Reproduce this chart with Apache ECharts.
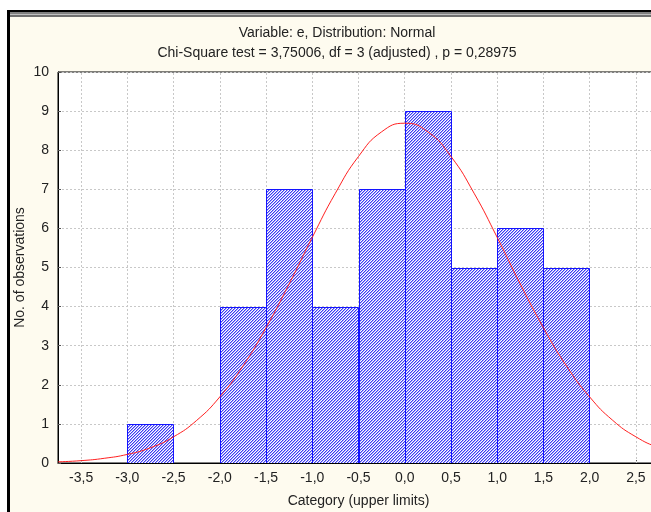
<!DOCTYPE html>
<html>
<head>
<meta charset="utf-8">
<script src="https://cdn.jsdelivr.net/npm/echarts@6/dist/echarts.min.js"></script>
<style>html,body{margin:0;padding:0;background:#fff}#c{width:651px;height:512px}</style>
</head>
<body>
<div id="c"></div>
<script>
// Histogram bins: [lower limit, upper limit, count]
var binLower = [-3.0, -2.0, -1.5, -1.0, -0.5, 0.0, 0.5, 1.0, 1.5];
var binUpper = [-2.5, -1.5, -1.0, -0.5, 0.0, 0.5, 1.0, 1.5, 2.0];
var binCounts = [1, 4, 7, 4, 7, 9, 5, 6, 5];
// Fitted normal curve
var curveX = [-3.75, -3.5, -3.25, -3.0, -2.75, -2.5, -2.25, -2.0, -1.75, -1.5, -1.25, -1.0, -0.75, -0.5, -0.25, 0.0, 0.25, 0.5, 0.75, 1.0, 1.25, 1.5, 1.75, 2.0, 2.25, 2.5, 2.75, 3.0];
var curveY = [0.03, 0.06, 0.12, 0.22, 0.39, 0.67, 1.09, 1.69, 2.48, 3.46, 4.58, 5.77, 6.90, 7.84, 8.47, 8.69, 8.47, 7.84, 6.90, 5.77, 4.58, 3.46, 2.48, 1.69, 1.09, 0.67, 0.39, 0.22];
// x tick labels
var xTicks = [-3.5, -3.0, -2.5, -2.0, -1.5, -1.0, -0.5, 0.0, 0.5, 1.0, 1.5, 2.0, 2.5];
var titleLine1 = 'Variable: e, Distribution: Normal';
var titleLine2 = 'Chi-Square test = 3,75006, df = 3 (adjusted) , p = 0,28975';

// hatch pattern
var pc = document.createElement('canvas');
pc.width = 3; pc.height = 3;
var px = pc.getContext('2d');
px.fillStyle = '#ffffff'; px.fillRect(0, 0, 3, 3);
for (var yy = 0; yy < 3; yy++) for (var xx = 0; xx < 3; xx++) {
  var k = (xx + yy) % 3;
  if (k === 2) { px.fillStyle = '#3a3af4'; px.fillRect(xx, yy, 1, 1); }
  else if (k === 0) { px.fillStyle = '#a8a8fa'; px.fillRect(xx, yy, 1, 1); }
}

var barData = binCounts.map(function (c, i) { return [binLower[i], binUpper[i], c]; });
var lineData = curveX.map(function (x, i) { return [x, curveY[i]]; });
var gridMarks = xTicks.map(function (v) { return {xAxis: v}; });

var FONT = '"Liberation Sans", Arial, sans-serif';
var chart = echarts.init(document.getElementById('c'), null, {renderer: 'canvas'});
chart.setOption({
  animation: false,
  backgroundColor: '#ffffff',
  graphic: [
    {type: 'rect', z: -10, silent: true, shape: {x: 7, y: 10, width: 700, height: 600}, style: {fill: '#fefbef'}},
    {type: 'rect', z: -9, silent: true, shape: {x: 7, y: 10, width: 700, height: 2}, style: {fill: '#000000'}},
    {type: 'rect', z: -9, silent: true, shape: {x: 10, y: 12, width: 700, height: 2}, style: {fill: '#808080'}},
    {type: 'rect', z: -9, silent: true, shape: {x: 10, y: 14, width: 700, height: 1}, style: {fill: '#c0c0c0'}},
    {type: 'rect', z: -9, silent: true, shape: {x: 10, y: 15, width: 700, height: 2}, style: {fill: '#707070'}},
    {type: 'rect', z: -9, silent: true, shape: {x: 7, y: 10, width: 3, height: 600}, style: {fill: '#000000'}},
    {type: 'text', x: 337, y: 33, style: {text: titleLine1, font: '14px ' + FONT, fill: '#222', align: 'center', verticalAlign: 'middle'}},
    {type: 'text', x: 337, y: 53, style: {text: titleLine2, font: '14px ' + FONT, fill: '#222', align: 'center', verticalAlign: 'middle'}}
  ],
  grid: {left: 58, width: 601, top: 72, bottom: 49, outerBoundsMode: 'none', containLabel: false, show: true, backgroundColor: '#ffffff', borderColor: '#000', borderWidth: 1},
  xAxis: {
    type: 'value', min: -3.75, max: 2.75,
    name: 'Category (upper limits)', nameLocation: 'middle', nameGap: 31, nameMoveOverlap: false,
    nameTextStyle: {fontFamily: FONT, fontSize: 14, color: '#222'},
    axisLine: {show: true, onZero: false, lineStyle: {color: '#000', width: 1}},
    axisTick: {show: true, inside: true, length: 3, customValues: xTicks, lineStyle: {color: '#555'}},
    axisLabel: {
      fontFamily: FONT, fontSize: 14, color: '#222', margin: 8, customValues: xTicks,
      formatter: function (v) { return v.toFixed(1).replace('.', ','); }
    },
    splitLine: {show: false}
  },
  yAxis: {
    type: 'value', min: 0, max: 10, interval: 1,
    name: 'No. of observations', nameLocation: 'middle', nameGap: 31, nameMoveOverlap: false,
    nameTextStyle: {fontFamily: FONT, fontSize: 14, color: '#222'},
    axisLine: {show: true, onZero: false, lineStyle: {color: '#000', width: 1}},
    axisTick: {show: true, inside: true, length: 3, lineStyle: {color: '#555'}},
    axisLabel: {fontFamily: FONT, fontSize: 14, color: '#222', margin: 9},
    splitLine: {show: true, lineStyle: {color: '#c8c8c8', type: [2, 2], width: 1}}
  },
  series: [
    {
      type: 'custom',
      data: barData,
      clip: true,
      renderItem: function (params, api) {
        var p0 = api.coord([api.value(0), api.value(2)]);
        var p1 = api.coord([api.value(1), 0]);
        return {
          type: 'rect',
          shape: {x: Math.round(p0[0]) + 0.5, y: Math.round(p0[1]) + 0.5, width: Math.round(p1[0] - p0[0]), height: Math.round(p1[1] - p0[1])},
          style: {fill: {image: pc, repeat: 'repeat'}, stroke: '#1414ff', lineWidth: 1}
        };
      },
      z: 2
    },
    {
      type: 'line',
      data: lineData,
      smooth: true,
      showSymbol: false,
      clip: true,
      lineStyle: {color: '#ff2020', width: 1},
      z: 3,
      markLine: {
        silent: true,
        symbol: 'none',
        label: {show: false},
        lineStyle: {color: '#c8c8c8', type: [2, 2], width: 1},
        emphasis: {disabled: true},
        data: gridMarks,
        z: 1
      }
    }
  ]
});
</script>
</body>
</html>
